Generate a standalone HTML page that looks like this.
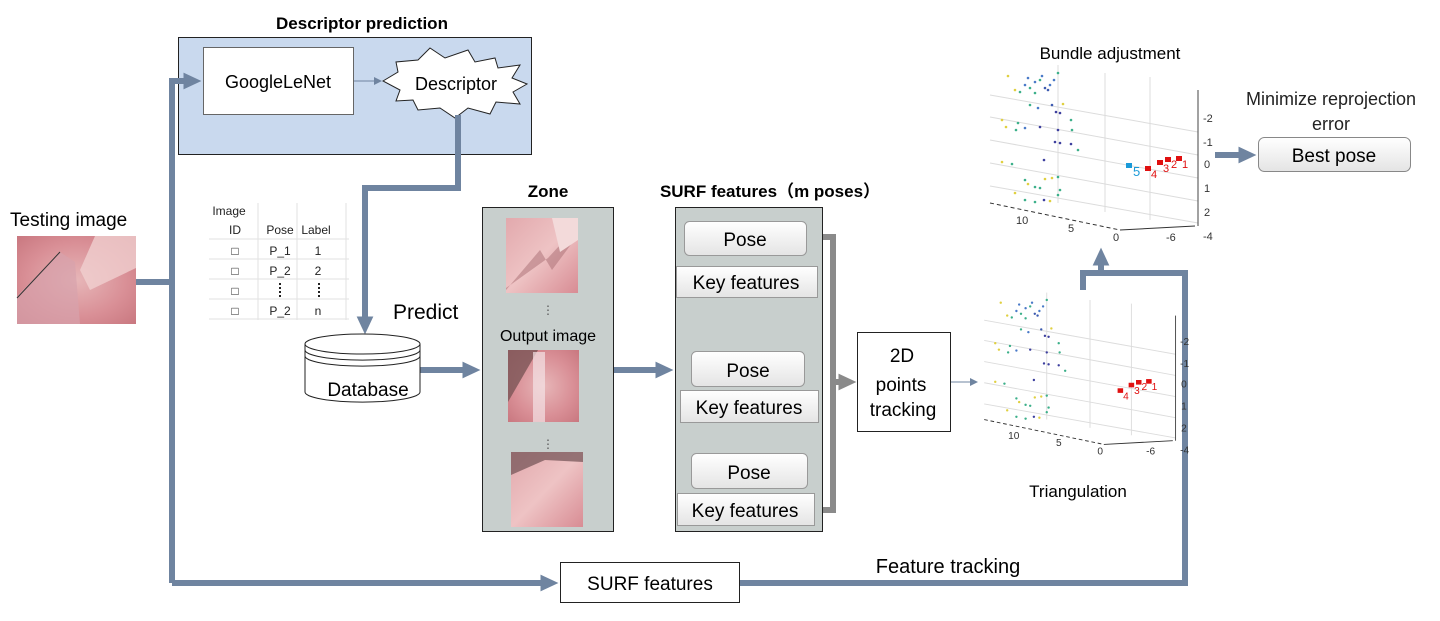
<!DOCTYPE html>
<html><head><meta charset="utf-8"><style>
html,body{margin:0;padding:0;background:#fff;width:1440px;height:621px;overflow:hidden}
svg{display:block;font-family:"Liberation Sans",Arial,sans-serif}
</style></head><body>
<svg width="1440" height="621" viewBox="0 0 1440 621" xmlns="http://www.w3.org/2000/svg">
<defs>
<marker id="ah" markerWidth="3" markerHeight="2.8" refX="1.6" refY="1.4" orient="auto" markerUnits="strokeWidth"><path d="M0,0 L3,1.4 L0,2.8 Z" fill="#6f84a0"/></marker>
<marker id="ag" markerWidth="3" markerHeight="2.8" refX="1.6" refY="1.4" orient="auto" markerUnits="strokeWidth"><path d="M0,0 L3,1.4 L0,2.8 Z" fill="#8a8a8a"/></marker>
<marker id="at" markerWidth="8" markerHeight="8" refX="7" refY="4" orient="auto" markerUnits="userSpaceOnUse"><path d="M0,0 L8,4 L0,8 Z" fill="#6f84a0"/></marker>
<linearGradient id="btn" x1="0" y1="0" x2="0" y2="1"><stop offset="0" stop-color="#ffffff"/><stop offset="1" stop-color="#e4e4e4"/></linearGradient>
<radialGradient id="pk1" cx="0.5" cy="0.5" r="0.7"><stop offset="0" stop-color="#e7b6b8"/><stop offset="0.6" stop-color="#d98f96"/><stop offset="1" stop-color="#c97880"/></radialGradient>
<linearGradient id="pk2" x1="0" y1="0" x2="1" y2="1"><stop offset="0" stop-color="#e2a9ad"/><stop offset="0.5" stop-color="#eec3c4"/><stop offset="1" stop-color="#d88c94"/></linearGradient>
<g id="plot">
 <g stroke="#dcdcdc" stroke-width="1" fill="none">
  <line x1="10" y1="35" x2="218" y2="72"/><line x1="10" y1="57" x2="218" y2="95"/>
  <line x1="10" y1="80" x2="218" y2="118"/><line x1="10" y1="103" x2="218" y2="141"/>
  <line x1="10" y1="126" x2="218" y2="163"/>
  <line x1="78" y1="5" x2="78" y2="143"/><line x1="125" y1="13" x2="125" y2="152"/><line x1="170" y1="17" x2="170" y2="160"/>
 </g>
 <line x1="218" y1="30" x2="218" y2="166" stroke="#444" stroke-width="1"/>
 <line x1="10" y1="143" x2="140" y2="170" stroke="#333" stroke-width="1" stroke-dasharray="4,3"/>
 <line x1="140" y1="170" x2="215" y2="166" stroke="#333" stroke-width="1"/>
 <g font-size="11" fill="#333">
  <text x="223" y="62">-2</text><text x="223" y="86">-1</text><text x="224" y="108">0</text>
  <text x="224" y="132">1</text><text x="224" y="156">2</text><text x="223" y="180">-4</text>
  <text x="36" y="164">10</text><text x="88" y="172">5</text><text x="133" y="181">0</text><text x="186" y="181">-6</text>
 </g>
 <g>
  <circle cx="28" cy="16" r="1.3" fill="#e0d040"/><circle cx="45" cy="25" r="1.3" fill="#4a7ac8"/><circle cx="50" cy="28" r="1.3" fill="#3cb08a"/>
  <circle cx="55" cy="22" r="1.3" fill="#4a7ac8"/><circle cx="60" cy="20" r="1.3" fill="#3cb08a"/><circle cx="65" cy="28" r="1.3" fill="#3d5bb0"/>
  <circle cx="70" cy="25" r="1.3" fill="#4a7ac8"/><circle cx="74" cy="20" r="1.3" fill="#4a7ac8"/><circle cx="78" cy="13" r="1.3" fill="#3cb08a"/>
  <circle cx="35" cy="30" r="1.3" fill="#e0d040"/><circle cx="40" cy="32" r="1.3" fill="#3cb08a"/><circle cx="55" cy="33" r="1.3" fill="#3cb08a"/>
  <circle cx="48" cy="18" r="1.3" fill="#4a7ac8"/><circle cx="62" cy="16" r="1.3" fill="#4a7ac8"/><circle cx="68" cy="30" r="1.3" fill="#3d5bb0"/>
  <circle cx="50" cy="45" r="1.3" fill="#3cb08a"/><circle cx="58" cy="48" r="1.3" fill="#4a7ac8"/><circle cx="72" cy="45" r="1.3" fill="#3d5bb0"/>
  <circle cx="76" cy="52" r="1.3" fill="#3d3f9e"/><circle cx="80" cy="53" r="1.3" fill="#3d3f9e"/><circle cx="83" cy="44" r="1.3" fill="#e0d040"/>
  <circle cx="22" cy="60" r="1.3" fill="#e0d040"/><circle cx="38" cy="63" r="1.3" fill="#3cb08a"/><circle cx="45" cy="68" r="1.3" fill="#4a7ac8"/>
  <circle cx="36" cy="70" r="1.3" fill="#3cb08a"/><circle cx="60" cy="67" r="1.3" fill="#3d3f9e"/><circle cx="78" cy="70" r="1.3" fill="#3d3f9e"/>
  <circle cx="91" cy="60" r="1.3" fill="#3cb08a"/><circle cx="92" cy="70" r="1.3" fill="#3cb08a"/><circle cx="26" cy="67" r="1.3" fill="#e0d040"/>
  <circle cx="75" cy="82" r="1.3" fill="#3d3f9e"/><circle cx="80" cy="83" r="1.3" fill="#3d3f9e"/><circle cx="91" cy="84" r="1.3" fill="#3d3f9e"/>
  <circle cx="98" cy="90" r="1.3" fill="#3cb08a"/><circle cx="22" cy="102" r="1.3" fill="#e0d040"/><circle cx="32" cy="104" r="1.3" fill="#3cb08a"/>
  <circle cx="64" cy="100" r="1.3" fill="#3d3f9e"/><circle cx="45" cy="120" r="1.3" fill="#3cb08a"/><circle cx="48" cy="124" r="1.3" fill="#e0d040"/>
  <circle cx="55" cy="127" r="1.3" fill="#3cb08a"/><circle cx="65" cy="119" r="1.3" fill="#e0d040"/><circle cx="72" cy="118" r="1.3" fill="#e0d040"/>
  <circle cx="78" cy="117" r="1.3" fill="#3cb08a"/><circle cx="60" cy="128" r="1.3" fill="#3cb08a"/><circle cx="35" cy="133" r="1.3" fill="#e0d040"/>
  <circle cx="45" cy="140" r="1.3" fill="#3cb08a"/><circle cx="55" cy="142" r="1.3" fill="#3cb08a"/><circle cx="70" cy="141" r="1.3" fill="#e0d040"/>
  <circle cx="78" cy="135" r="1.3" fill="#3cb08a"/><circle cx="80" cy="130" r="1.3" fill="#3cb08a"/><circle cx="64" cy="140" r="1.3" fill="#3d3f9e"/>
 </g>
</g>
</defs>

<text x="362" y="29" font-size="17" font-weight="bold" text-anchor="middle">Descriptor prediction</text>
<rect x="178.5" y="37.5" width="353" height="117" fill="#c9d9ee" stroke="#222" stroke-width="1"/>
<rect x="203.5" y="47.5" width="150" height="67" fill="#fff" stroke="#666" stroke-width="1"/>
<text x="278" y="88" font-size="18" text-anchor="middle">GoogleLeNet</text>
<line x1="354" y1="81" x2="381" y2="81" stroke="#6f84a0" stroke-width="1" marker-end="url(#at)"/>
<polygon points="383,81 398,72 396,62 418,60 430,48 445,58 468,50 475,62 495,58 498,68 520,65 512,78 527,84 513,92 520,104 496,102 490,114 468,108 455,118 440,108 418,110 413,100 396,101 400,90" fill="#fff" stroke="#222" stroke-width="1"/>
<text x="456" y="90" font-size="18" text-anchor="middle">Descriptor</text>

<g stroke="#6f84a0" stroke-width="6" fill="none" stroke-linejoin="miter">
 <polyline points="458,115 458,188 365,188 365,326" marker-end="url(#ah)"/>
 <polyline points="136,282 172,282"/>
 <polyline points="172,583 172,81 193,81" marker-end="url(#ah)"/>
 <polyline points="172,583 550,583" marker-end="url(#ah)"/>
 <polyline points="420,370 472,370" marker-end="url(#ah)"/>
 <polyline points="614,370 665,370" marker-end="url(#ah)"/>
 <polyline points="740,583 1185,583 1185,273 1083,273 1083,290"/>
 <polyline points="1101,273 1101,256" marker-end="url(#ah)"/>
 <polyline points="1215,155 1248,155" marker-end="url(#ah)"/>
</g>

<text x="10" y="226" font-size="19">Testing image</text>
<rect x="17" y="236" width="119" height="88" fill="url(#pk1)"/>
<polygon points="17,296 60,252 75,262 80,324 17,324" fill="#d7a2ac" opacity="0.7"/>
<polygon points="95,236 136,236 136,268 90,290 80,270" fill="#f0d0d0" opacity="0.8"/>
<line x1="17" y1="298" x2="60" y2="252" stroke="#333" stroke-width="1"/>

<g font-size="12" fill="#222" text-anchor="middle">
 <text x="229" y="215">Image</text>
 <text x="235" y="234">ID</text><text x="280" y="234">Pose</text><text x="316" y="234">Label</text>
 <text x="235" y="255">□</text><text x="280" y="255">P_1</text><text x="318" y="255">1</text>
 <text x="235" y="275">□</text><text x="280" y="275">P_2</text><text x="318" y="275">2</text>
 <text x="235" y="295">□</text>
 <text x="235" y="315">□</text><text x="280" y="315">P_2</text><text x="318" y="315">n</text>
</g>
<g stroke="#222" stroke-width="2" stroke-dasharray="2,2"><line x1="280" y1="283" x2="280" y2="297"/><line x1="319" y1="283" x2="319" y2="297"/></g>
<g stroke="#e2e2e2" stroke-width="1">
 <line x1="209" y1="239" x2="349" y2="239"/><line x1="209" y1="259" x2="349" y2="259"/><line x1="209" y1="279" x2="349" y2="279"/>
 <line x1="209" y1="299" x2="349" y2="299"/><line x1="209" y1="319" x2="349" y2="319"/>
 <line x1="258" y1="203" x2="258" y2="320"/><line x1="297" y1="203" x2="297" y2="320"/><line x1="346" y1="203" x2="346" y2="320"/>
</g>

<path d="M305,344 L305,392 A57,10 0 0 0 420,392 L420,344" fill="#fff" stroke="#222" stroke-width="1"/>
<ellipse cx="362.5" cy="344" rx="57.5" ry="10" fill="#fff" stroke="#222" stroke-width="1"/>
<path d="M305,350 A57,10 0 0 0 420,350 M305,356 A57,10 0 0 0 420,356" fill="none" stroke="#222" stroke-width="1"/>
<text x="368" y="396" font-size="19" text-anchor="middle">Database</text>
<text x="393" y="319" font-size="21">Predict</text>

<text x="548" y="197" font-size="17" font-weight="bold" text-anchor="middle">Zone</text>
<rect x="482.5" y="207.5" width="131" height="324" fill="#c8cfcd" stroke="#222" stroke-width="1"/>
<rect x="506" y="218" width="72" height="75" fill="url(#pk2)"/>
<polygon points="506,290 540,250 552,270 578,235 578,225 560,245 548,258 506,288" fill="#a86c72" opacity="0.5"/>
<polygon points="552,218 578,218 578,240 560,252" fill="#f3dada"/>
<text x="548" y="314" font-size="12" text-anchor="middle" fill="#555">⋮</text>
<text x="548" y="341" font-size="16" text-anchor="middle">Output image</text>
<rect x="508" y="350" width="71" height="72" fill="url(#pk1)"/>
<polygon points="508,350 538,350 508,402" fill="#7a5556" opacity="0.8"/>
<rect x="533" y="352" width="12" height="70" fill="#f3e3e6" opacity="0.7"/>
<text x="548" y="448" font-size="12" text-anchor="middle" fill="#555">⋮</text>
<rect x="511" y="452" width="72" height="75" fill="url(#pk2)"/>
<polygon points="511,452 583,452 583,462 545,460 511,475" fill="#6f5052" opacity="0.7"/>

<text x="770" y="197" font-size="17" font-weight="bold" text-anchor="middle" font-family="Liberation Sans,'Noto Sans CJK SC',sans-serif">SURF features（m poses）</text>
<rect x="675.5" y="207.5" width="147" height="324" fill="#c8cfcd" stroke="#222" stroke-width="1"/>
<g stroke="#999" stroke-width="1">
 <rect x="684.5" y="221.5" width="122" height="34" rx="5" fill="url(#btn)"/>
 <rect x="691.5" y="351.5" width="113" height="35" rx="5" fill="url(#btn)"/>
 <rect x="691.5" y="453.5" width="116" height="35" rx="5" fill="url(#btn)"/>
 <rect x="676.5" y="266.5" width="141" height="31" fill="url(#btn)"/>
 <rect x="680.5" y="390.5" width="138" height="32" fill="url(#btn)"/>
 <rect x="677.5" y="493.5" width="137" height="32" fill="url(#btn)"/>
</g>
<g font-size="19" text-anchor="middle">
 <text x="745" y="246">Pose</text><text x="748" y="377">Pose</text><text x="749" y="479">Pose</text>
 <text x="746" y="289">Key features</text><text x="749" y="414">Key features</text><text x="745" y="517">Key features</text>
</g>
<polyline points="823,237 833,237 833,510 823,510" fill="none" stroke="#8a8a8a" stroke-width="6"/>
<line x1="833" y1="382" x2="848" y2="382" stroke="#8a8a8a" stroke-width="6" marker-end="url(#ag)"/>
<rect x="857.5" y="332.5" width="93" height="99" fill="#fff" stroke="#222" stroke-width="1"/>
<g font-size="19" text-anchor="middle"><text x="902" y="362">2D</text><text x="901" y="391">points</text><text x="903" y="416">tracking</text></g>
<line x1="951" y1="382" x2="977" y2="382" stroke="#6f84a0" stroke-width="1" marker-end="url(#at)"/>

<rect x="560.5" y="562.5" width="179" height="40" fill="#fff" stroke="#222" stroke-width="1"/>
<text x="650" y="590" font-size="19" text-anchor="middle">SURF features</text>
<text x="948" y="573" font-size="20" text-anchor="middle">Feature tracking</text>

<text x="1110" y="59" font-size="17" text-anchor="middle">Bundle adjustment</text>
<g transform="translate(980,60)"><use href="#plot"/>
 <g fill="#e01010"><rect x="165" y="106" width="6" height="5"/><rect x="177" y="100" width="6" height="5"/><rect x="185" y="97" width="6" height="5"/><rect x="196" y="96" width="6" height="5"/></g>
 <g fill="#e01010" font-size="11"><text x="171" y="118">4</text><text x="183" y="112">3</text><text x="191" y="108">2</text><text x="202" y="108">1</text></g>
 <rect x="146" y="103" width="6" height="5" fill="#1a9ad8"/><text x="153" y="116" font-size="13" fill="#1a9ad8">5</text>
</g>
<g transform="translate(975,288) scale(0.92)"><use href="#plot"/>
 <g fill="#e01010"><rect x="155" y="109" width="6" height="5"/><rect x="167" y="103" width="6" height="5"/><rect x="175" y="100" width="6" height="5"/><rect x="186" y="99" width="6" height="5"/></g>
 <g fill="#e01010" font-size="11"><text x="161" y="121">4</text><text x="173" y="115">3</text><text x="181" y="111">2</text><text x="192" y="111">1</text></g>
</g>
<text x="1078" y="497" font-size="17" text-anchor="middle">Triangulation</text>

<g font-size="18" fill="#222" text-anchor="middle"><text x="1331" y="105">Minimize reprojection</text><text x="1331" y="130">error</text></g>
<rect x="1258.5" y="137.5" width="152" height="34" rx="6" fill="url(#btn)" stroke="#888" stroke-width="1"/>
<text x="1334" y="162" font-size="19" text-anchor="middle">Best pose</text>
</svg>
</body></html>
